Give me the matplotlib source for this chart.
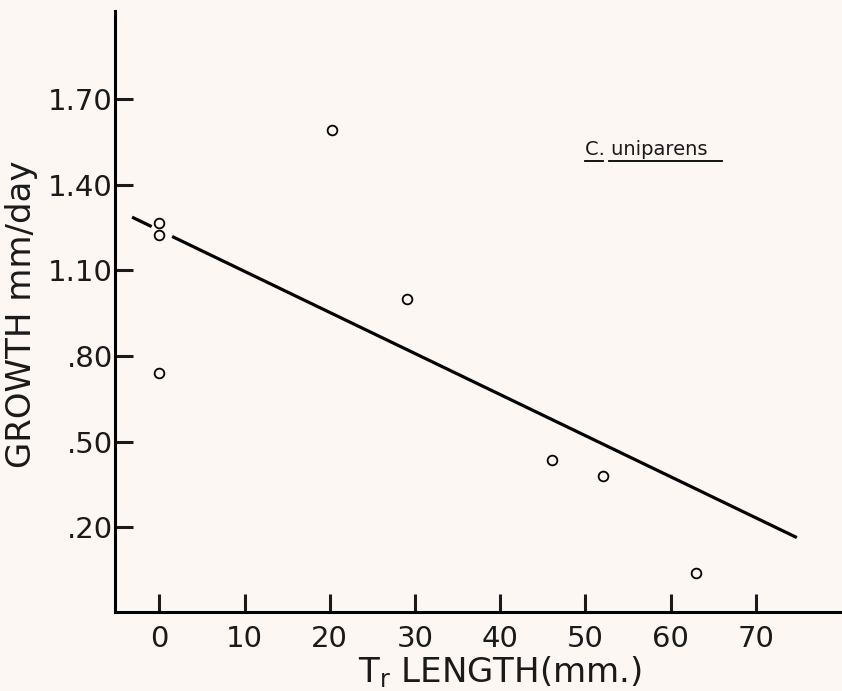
import matplotlib
matplotlib.use("Agg")
import matplotlib.pyplot as plt

# data
tr_length = [0, 0, 0, 20.3, 29.1, 46.1, 52.0, 63.0]
growth = [1.266, 1.224, 0.741, 1.592, 1.000, 0.436, 0.380, 0.040]
# regression line (two pieces; gap at the x=0 markers)
line_x1 = [-3.2, -0.9]
line_x2 = [1.5, 74.8]
slope = -0.01441
intercept = 1.241

x_ticks = [0, 10, 20, 30, 40, 50, 60, 70]
x_ticklabels = ["0", "10", "20", "30", "40", "50", "60", "70"]
y_ticks = [1.70, 1.40, 1.10, 0.80, 0.50, 0.20]
y_ticklabels = ["1.70", "1.40", "1.10", ".80", ".50", ".20"]

bg = "#fdf7f4"
plt.rcParams['font.family'] = ['DejaVu Sans']

fig = plt.figure(figsize=(8.42, 6.91), dpi=100, facecolor=bg)
ax = fig.add_axes([0.1366, 0.1143, 0.8634, 0.8697], facecolor=bg)

for xs in (line_x1, line_x2):
    ys = [intercept + slope * v for v in xs]
    ax.plot(xs, ys, color="black", lw=2.3, solid_capstyle="butt")

ax.plot(tr_length, growth, linestyle="none", marker="o", markersize=7,
        markerfacecolor=bg, markeredgecolor="black", markeredgewidth=1.3)

ax.set_xlim(-5.2, 80.1)
ax.set_ylim(-0.098, 2.01)

for s in ("top", "right"):
    ax.spines[s].set_visible(False)
for s in ("left", "bottom"):
    ax.spines[s].set_linewidth(2.2)

ax.set_xticks(x_ticks)
ax.set_xticklabels(x_ticklabels)
ax.set_yticks(y_ticks)
ax.set_yticklabels(y_ticklabels)
ax.tick_params(axis="both", direction="in", length=13, width=2.2,
               labelsize=21, colors="#1a1a1a")
ax.tick_params(axis="x", pad=9)
ax.tick_params(axis="y", pad=1.5)

fig.text(0.026, 0.5456, "GROWTH mm/day", rotation=90, ha="center",
         va="center", fontsize=24.5, color="#1a1a1a")
fig.text(0.594, 0.013, r"T$_\mathregular{r}$ LENGTH(mm.)", ha="center",
         va="baseline", fontsize=24.5, color="#1a1a1a")

fig.text(0.695, 1 - 155 / 691, "C. uniparens", fontsize=14, ha="left",
         va="baseline", color="#1a1a1a")
# underline (separate under "C" and "uniparens")
fig.add_artist(plt.Line2D([585 / 842, 603 / 842], [1 - 161 / 691] * 2,
                          color="black", lw=1.3, transform=fig.transFigure))
fig.add_artist(plt.Line2D([609 / 842, 722 / 842], [1 - 161 / 691] * 2,
                          color="black", lw=1.3, transform=fig.transFigure))

fig.savefig("out.png", dpi=100, facecolor=bg)
